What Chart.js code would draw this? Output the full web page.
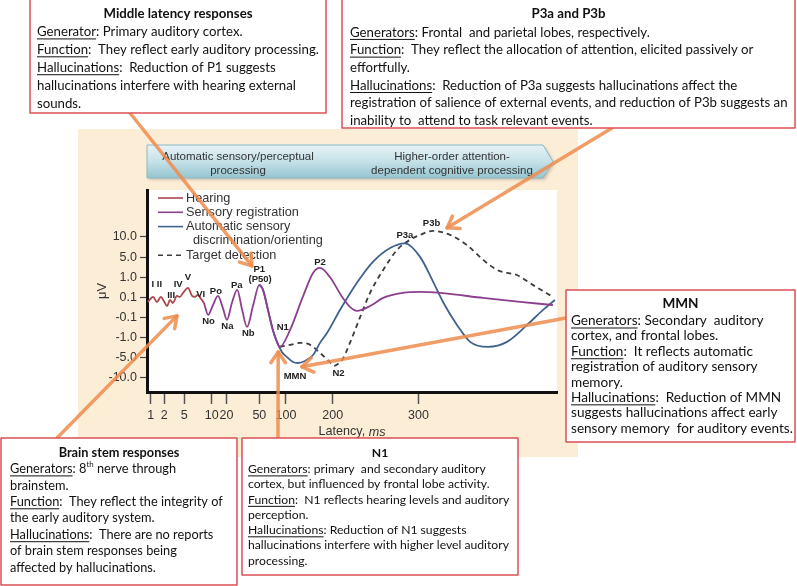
<!DOCTYPE html>
<html>
<head>
<meta charset="utf-8">
<script src="https://cdn.jsdelivr.net/npm/chart.js@4.4.1/dist/chart.umd.min.js"></script>
<style>
  html, body { margin: 0; padding: 0; background: #fff; }
  canvas { display: block; }
</style>
</head>
<body>
<canvas id="erp-chart" width="797" height="586"></canvas>
<script>
// x is position along the latency axis (0-100 across the plot),
// y is the tick index of the uneven µV axis (0 = -10.0 ... 7 = 10.0)
const xTickPos = [0.9, 4.2, 9.1, 15.8, 19.4, 27.4, 33.9, 45.3, 66.2];
const xTickLabels = ['1', '2', '5', '10', '20', '50', '100', '200', '300'];
const yTickPos = [0, 1, 2, 3, 4, 5, 6, 7];
const yTickLabels = ['-10.0', '-5.0', '-1.0', '-0.1', '0.1', '1.0', '5.0', '10.0'];

const hearingX = [0.2, 1.5, 2.4, 3.4, 4.1, 4.9, 5.6, 6.3, 7.3, 8.0, 8.8, 10.0, 11.0, 11.7, 12.4, 13.2, 13.9];
const hearingY = [3.77, 4.02, 3.77, 4.02, 3.82, 3.57, 3.87, 3.72, 4.07, 4.02, 4.22, 4.47, 4.07, 4.02, 4.12, 3.92, 3.72];

const sensoryX = [13.9, 14.9, 16.1, 17.3, 18.5, 19.5, 20.7, 22.0, 23.2, 24.4, 25.9, 27.4, 28.3, 29.5, 30.7, 31.7, 32.4, 34.9, 38.0, 40.5, 42.2, 44.6, 47.6, 49.5, 51.2, 54.4, 57.6, 62.4, 66.6, 71.5, 82.0, 91.0, 99.0];
const sensoryY = [3.72, 3.13, 3.62, 4.07, 3.48, 2.88, 3.72, 4.37, 3.38, 2.53, 3.62, 4.62, 4.37, 3.38, 2.38, 1.79, 1.54, 2.38, 4.02, 5.21, 5.46, 5.01, 4.02, 3.53, 3.33, 3.57, 3.97, 4.22, 4.27, 4.22, 3.97, 3.77, 3.62];

const automaticX = [27.4, 28.3, 29.5, 30.7, 31.7, 32.9, 34.1, 35.6, 36.8, 38.5, 40.5, 42.2, 43.9, 47.1, 51.2, 55.1, 59.3, 62.9, 66.6, 69.8, 72.2, 75.6, 78.8, 83.2, 87.8, 92.7, 96.6, 99.5];
const automaticY = [4.62, 4.37, 3.38, 2.38, 1.79, 1.29, 1.04, 0.79, 0.74, 0.84, 1.14, 1.74, 2.23, 3.38, 4.72, 5.76, 6.45, 6.68, 6.01, 4.77, 3.77, 2.63, 1.79, 1.54, 1.79, 2.63, 3.38, 3.87];

const targetX = [32.4, 34.9, 37.3, 39.8, 42.2, 44.6, 45.6, 46.6, 47.6, 49.5, 52.0, 54.4, 57.6, 61.0, 64.1, 66.6, 69.8, 73.9, 78.0, 82.0, 85.4, 87.8, 90.2, 94.1, 99.0];
const targetY = [1.54, 1.64, 1.74, 1.64, 1.24, 0.79, 0.60, 0.70, 0.89, 1.74, 3.03, 4.22, 5.36, 6.36, 6.85, 7.10, 7.30, 7.10, 6.60, 5.86, 5.36, 5.21, 5.11, 4.62, 4.02];

const peakNames = ['I II', 'III', 'IV', 'V', 'VI', 'Po', 'Pa', 'P1', '(P50)', 'No', 'Na', 'Nb', 'N1', 'P2', 'P3a', 'P3b', 'MMN', 'N2'];
const peakX = [2.4, 5.9, 7.6, 10.0, 13.1, 16.8, 21.9, 27.4, 27.6, 15.0, 19.6, 24.7, 33.1, 42.2, 62.9, 69.4, 36.1, 46.7];
const peakY = [4.62, 4.08, 4.65, 4.98, 4.17, 4.28, 4.58, 5.41, 4.88, 2.83, 2.57, 2.20, 2.50, 5.72, 7.10, 7.68, 0.10, 0.20];

const legendLines = [['Hearing'], ['Sensory registration'], ['Automatic sensory', 'discrimination/orienting'], ['Target detection']];

const FONT = '"Liberation Sans", Arial, sans-serif';
const BOX_FONT = 'Lato, "Open Sans", sans-serif';

// callout boxes (page layout, in pixels)
const boxes = [
    {
        x: 30, y: -1, w: 296, h: 114, pad: 7, titleY: 13.5, firstY: 31.8, step: 17.9, fitLine: 1, fitW: 282,
        title: 'Middle latency responses',
        lines: [
            '_Generator_: Primary auditory cortex.',
            '_Function_:  They reflect early auditory processing.',
            '_Hallucinations_:  Reduction of P1 suggests',
            'hallucinations interfere with hearing external',
            'sounds.',
        ],
    },
    {
        x: 342, y: -1, w: 453, h: 129, pad: 8, titleY: 14, firstY: 32.3, step: 17.7, fitLine: 4, fitW: 438,
        title: 'P3a and P3b',
        lines: [
            '_Generators_: Frontal  and parietal lobes, respectively.',
            '_Function_:  They reflect the allocation of attention, elicited passively or',
            'effortfully.',
            '_Hallucinations_:  Reduction of P3a suggests hallucinations affect the',
            'registration of salience of external events, and reduction of P3b suggests an',
            'inability to  attend to task relevant events.',
        ],
    },
    {
        x: 1, y: 438, w: 236, h: 147, pad: 9, titleY: 453, firstY: 469, step: 16.45, fitLine: 2, fitW: 213,
        title: 'Brain stem responses',
        lines: [
            '_Generators_: 8^th^ nerve through',
            'brainstem.',
            '_Function_:  They reflect the integrity of',
            'the early auditory system.',
            '_Hallucinations_:  There are no reports',
            'of brain stem responses being',
            'affected by hallucinations.',
        ],
    },
    {
        x: 242, y: 438, w: 276, h: 137, pad: 6, titleY: 452.7, firstY: 469.3, step: 15.23, fitLine: 1, fitW: 242,
        title: 'N1',
        lines: [
            '_Generators_: primary  and secondary auditory',
            'cortex, but influenced by frontal lobe activity.',
            '_Function_:  N1 reflects hearing levels and auditory',
            'perception.',
            '_Hallucinations_: Reduction of N1 suggests',
            'hallucinations interfere with higher level auditory',
            'processing.',
        ],
    },
    {
        x: 566, y: 290, w: 229, h: 152, pad: 5, titleY: 303.5, firstY: 320.7, step: 15.37, fitLine: 7, fitW: 222,
        title: 'MMN',
        lines: [
            '_Generators_: Secondary  auditory',
            'cortex, and frontal lobes.',
            '_Function_:  It reflects automatic',
            'registration of auditory sensory',
            'memory.',
            '_Hallucinations_:  Reduction of MMN',
            'suggests hallucinations affect early',
            'sensory memory  for auditory events.',
        ],
    },
];

// arrows: tail in page pixels, tip in chart units
const arrows = [
    { from: [130, 113], to: [25.6, 5.56] },
    { from: [612, 128], to: [73.2, 7.45] },
    { from: [57, 438], to: [7.3, 3.08] },
    { from: [278, 438], to: [32.0, 1.29] },
    { from: [566, 318], to: [37.8, 0.55] },
];

const toPoints = (xs, ys) => xs.map((x, i) => ({ x, y: ys[i] }));

function drawRich(ctx, str, x, y, size, bold) {
    const parts = str.split(/(_[^_]+_|\^[^^]+\^)/).filter(s => s);
    let cx = x;
    const weight = bold ? 'bold ' : '';
    parts.forEach(p => {
        if (p[0] === '^') {
            const t = p.slice(1, -1);
            ctx.font = `${weight}${size * 0.62}px ${BOX_FONT}`;
            ctx.fillText(t, cx, y - size * 0.32);
            cx += ctx.measureText(t).width;
            return;
        }
        const under = p[0] === '_';
        const t = under ? p.slice(1, -1) : p;
        ctx.font = `${weight}${size}px ${BOX_FONT}`;
        ctx.fillText(t, cx, y);
        const w = ctx.measureText(t).width;
        if (under) ctx.fillRect(cx, y + size * 0.5, w, 1);
        cx += w;
    });
}

function plainText(str) {
    return str.replace(/[_^]/g, '');
}

const decorPlugin = {
    id: 'decor',
    beforeDraw(chart) {
        const ctx = chart.ctx;
        const a = chart.chartArea;
        ctx.save();
        ctx.fillStyle = '#ffffff';
        ctx.fillRect(0, 0, chart.width, chart.height);

        // beige panel
        ctx.fillStyle = '#fcedd7';
        ctx.fillRect(78, 129, 500, 328);

        // process banner
        const top = 145, bot = 178, left = a.left, tipX = 553, notch = 543;
        ctx.save();
        ctx.shadowColor = 'rgba(0,0,0,0.18)';
        ctx.shadowOffsetX = 2;
        ctx.shadowOffsetY = 2;
        ctx.shadowBlur = 3;
        const g = ctx.createLinearGradient(0, top, 0, bot);
        g.addColorStop(0, '#e6f3f6');
        g.addColorStop(0.5, '#c6e1e8');
        g.addColorStop(1, '#95c5d0');
        ctx.fillStyle = g;
        ctx.beginPath();
        ctx.moveTo(left, top);
        ctx.lineTo(notch, top);
        ctx.lineTo(tipX, (top + bot) / 2);
        ctx.lineTo(notch, bot);
        ctx.lineTo(left, bot);
        ctx.closePath();
        ctx.fill();
        ctx.restore();
        ctx.strokeStyle = '#8ab8c3';
        ctx.lineWidth = 1;
        ctx.stroke();

        ctx.fillStyle = '#333';
        ctx.font = `11.5px ${FONT}`;
        ctx.textAlign = 'center';
        ctx.textBaseline = 'middle';
        ctx.fillText('Automatic sensory/perceptual', 238, 156.5);
        ctx.fillText('processing', 238, 171);
        ctx.fillText('Higher-order attention-', 452, 156.5);
        ctx.fillText('dependent cognitive processing', 452, 171);

        // plot background
        ctx.fillStyle = '#ffffff';
        ctx.fillRect(a.left, a.top, a.right - a.left, a.bottom - a.top);
        ctx.restore();
    },
    afterDatasetsDraw(chart) {
        const ctx = chart.ctx;
        const xs = chart.scales.x, ys = chart.scales.y;
        ctx.save();

        // peak names
        ctx.fillStyle = '#222';
        ctx.textAlign = 'center';
        ctx.textBaseline = 'middle';
        ctx.font = `bold 9.5px ${FONT}`;
        peakNames.forEach((n, i) => {
            ctx.fillText(n, xs.getPixelForValue(peakX[i]), ys.getPixelForValue(peakY[i]));
        });

        // legend
        ctx.textAlign = 'left';
        ctx.font = `12.7px ${FONT}`;
        let ly = chart.chartArea.top + 8;
        const lx = chart.chartArea.left + 11;
        chart.data.datasets.forEach((ds, i) => {
            ctx.strokeStyle = ds.borderColor;
            ctx.lineWidth = 1.6;
            ctx.setLineDash(ds.borderDash || []);
            ctx.beginPath();
            ctx.moveTo(lx, ly);
            ctx.lineTo(lx + 25, ly);
            ctx.stroke();
            ctx.setLineDash([]);
            ctx.fillStyle = '#333';
            legendLines[i].forEach((t, j) => {
                ctx.fillText(t, lx + 28 + (j ? 7 : 0), ly);
                if (j < legendLines[i].length - 1) ly += 14.3;
            });
            ly += 14.3;
        });

        // x title
        const xt = (xs.left + xs.right) / 2;
        const a = 'Latency, ';
        ctx.font = `12.6px ${FONT}`;
        const w1 = ctx.measureText(a).width;
        ctx.font = `italic 12.6px ${FONT}`;
        const w2 = ctx.measureText('ms').width;
        ctx.fillStyle = '#333';
        ctx.font = `12.6px ${FONT}`;
        ctx.fillText(a, xt - (w1 + w2) / 2, 432);
        ctx.font = `italic 12.6px ${FONT}`;
        ctx.fillText('ms', xt - (w1 + w2) / 2 + w1, 432);
        ctx.restore();
    },
    afterDraw(chart) {
        const ctx = chart.ctx;
        const xs = chart.scales.x, ys = chart.scales.y;
        ctx.save();

        // orange arrows
        ctx.strokeStyle = 'rgba(238, 140, 78, 0.85)';
        ctx.lineWidth = 3.5;
        ctx.lineCap = 'round';
        ctx.lineJoin = 'round';
        arrows.forEach(ar => {
            const [x1, y1] = ar.from;
            const x2 = xs.getPixelForValue(ar.to[0]);
            const y2 = ys.getPixelForValue(ar.to[1]);
            const ang = Math.atan2(y2 - y1, x2 - x1);
            ctx.beginPath();
            ctx.moveTo(x1, y1);
            ctx.lineTo(x2, y2);
            ctx.stroke();
            ctx.beginPath();
            ctx.moveTo(x2 - 13 * Math.cos(ang - 0.6), y2 - 13 * Math.sin(ang - 0.6));
            ctx.lineTo(x2, y2);
            ctx.lineTo(x2 - 13 * Math.cos(ang + 0.6), y2 - 13 * Math.sin(ang + 0.6));
            ctx.stroke();
        });

        // callout boxes
        boxes.forEach(b => {
            ctx.fillStyle = '#ffffff';
            ctx.fillRect(b.x, b.y, b.w, b.h);
            ctx.strokeStyle = '#dc5056';
            ctx.lineWidth = 1.5;
            ctx.strokeRect(b.x, b.y, b.w, b.h);

            ctx.font = `14px ${BOX_FONT}`;
            const size = 14 * b.fitW / ctx.measureText(plainText(b.lines[b.fitLine])).width;

            ctx.fillStyle = '#111';
            ctx.textBaseline = 'middle';
            ctx.textAlign = 'center';
            ctx.font = `bold ${size}px ${BOX_FONT}`;
            ctx.fillText(b.title, b.x + b.w / 2, b.titleY);
            ctx.textAlign = 'left';
            b.lines.forEach((ln, i) => {
                drawRich(ctx, ln, b.x + b.pad, b.firstY + i * b.step, size, false);
            });
        });
        ctx.restore();
    },
};

document.addEventListener('DOMContentLoaded', () => {
    const el = document.getElementById('erp-chart');

    new Chart(el.getContext('2d'), {
        type: 'line',
        data: {
            datasets: [
                {
                    label: 'Hearing',
                    data: toPoints(hearingX, hearingY),
                    borderColor: '#a8474c',
                },
                {
                    label: 'Sensory registration',
                    data: toPoints(sensoryX, sensoryY),
                    borderColor: '#8c3f8f',
                },
                {
                    label: 'Automatic sensory discrimination/orienting',
                    data: toPoints(automaticX, automaticY),
                    borderColor: '#41618f',
                },
                {
                    label: 'Target detection',
                    data: toPoints(targetX, targetY),
                    borderColor: '#3c3c3c',
                    borderDash: [5, 4],
                },
            ],
        },
        options: {
            responsive: false,
            animation: false,
            devicePixelRatio: 1,
            layout: { padding: { left: 95, right: 240, top: 190, bottom: 154 } },
            elements: {
                point: { radius: 0 },
                line: { borderWidth: 1.8, cubicInterpolationMode: 'monotone', fill: false },
            },
            plugins: {
                legend: { display: false },
                tooltip: { enabled: false },
            },
            scales: {
                x: {
                    type: 'linear',
                    min: 0,
                    max: 100,
                    afterFit: s => { s.height = 40; },
                    afterBuildTicks: s => { s.ticks = xTickPos.map(v => ({ value: v })); },
                    grid: { drawOnChartArea: false, drawTicks: true, tickLength: 12, tickWidth: 1.5, tickColor: '#555' },
                    border: { display: true, color: '#111', width: 3 },
                    ticks: {
                        autoSkip: false,
                        maxRotation: 0,
                        padding: 4,
                        color: '#333',
                        font: { family: FONT, size: 12.5 },
                        callback: (v, i) => xTickLabels[i],
                    },
                },
                y: {
                    type: 'linear',
                    min: -0.7,
                    max: 9.33,
                    afterFit: s => { s.width = 52; },
                    afterBuildTicks: s => { s.ticks = yTickPos.map(v => ({ value: v })); },
                    grid: { drawOnChartArea: false, drawTicks: true, tickLength: 7, tickWidth: 1.2, tickColor: '#444' },
                    border: { display: true, color: '#111', width: 3 },
                    title: { display: true, text: 'μV', color: '#333', font: { family: FONT, size: 13 }, padding: { top: 0, bottom: 4 } },
                    ticks: {
                        autoSkip: false,
                        padding: 3,
                        color: '#333',
                        font: { family: FONT, size: 12.5 },
                        callback: (v, i) => yTickLabels[i],
                    },
                },
            },
        },
        plugins: [decorPlugin],
    });
});
</script>
</body>
</html>
